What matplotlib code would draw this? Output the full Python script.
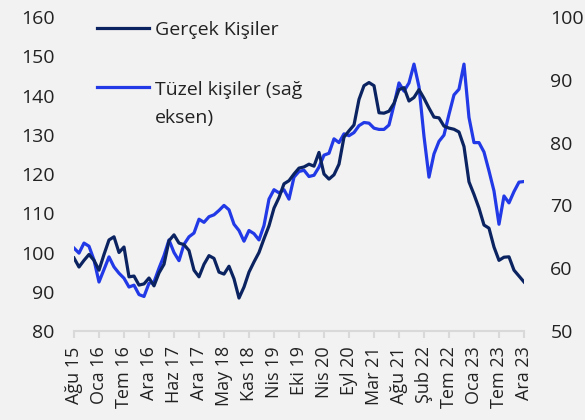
import matplotlib
matplotlib.use("Agg")
import matplotlib.pyplot as plt
from matplotlib.legend_handler import HandlerLine2D
import numpy as np

plt.rcParams['font.family'] = ['Open Sans', 'DejaVu Sans']

# tick labels (equally spaced on the date axis)
tick_labels = ["Ağu 15", "Oca 16", "Tem 16", "Ara 16", "Haz 17", "Ara 17", "May 18",
               "Kas 18", "Nis 19", "Eki 19", "Nis 20", "Eyl 20", "Mar 21", "Ağu 21",
               "Şub 22", "Tem 22", "Oca 23", "Tem 23", "Ara 23"]

# Gerçek Kişiler (left axis)
gercek = [98.6, 96.3, 98.0, 99.5, 98.0, 95.5, 99.5, 103.2, 104.0, 100.0,
          101.4, 93.8, 94.0, 91.7, 92.0, 93.5, 91.5, 94.8, 97.0, 103.0,
          104.5, 102.4, 102.0, 100.5, 95.5, 93.8, 97.0, 99.2, 98.5, 95.0,
          94.5, 96.5, 93.3, 88.4, 91.2, 95.0, 97.6, 100.0, 103.5, 106.8,
          111.3, 114.0, 117.5, 118.3, 120.0, 121.5, 121.8, 122.5, 122.0, 125.5,
          120.0, 118.7, 119.8, 122.5, 129.4, 131.0, 132.5, 139.0, 142.5, 143.3,
          142.5, 135.6, 135.5, 136.0, 138.0, 141.5, 142.0, 138.6, 139.5, 141.5,
          139.3, 136.8, 134.5, 134.3, 132.2, 131.7, 131.4, 130.7, 127.0, 118.0,
          114.8, 111.3, 107.0, 106.2, 101.4, 98.0, 98.8, 98.9, 95.5, 94.0,
          92.5]

# Tüzel kişiler (right axis)
tuzel = [63.2, 62.4, 64.0, 63.5, 61.3, 57.8, 59.8, 61.8, 60.2, 59.2,
         58.4, 57.0, 57.3, 55.8, 55.5, 57.6, 57.8, 60.0, 62.0, 64.5,
         62.5, 61.2, 63.8, 65.0, 65.6, 67.8, 67.3, 68.2, 68.5, 69.2,
         70.0, 69.3, 67.0, 66.0, 64.3, 66.0, 65.5, 64.5, 66.8, 71.0,
         72.5, 72.0, 72.5, 71.0, 74.5, 75.4, 75.6, 74.6, 74.8, 76.1,
         78.0, 78.3, 80.6, 80.0, 81.4, 81.1, 81.6, 82.7, 83.2, 83.1,
         82.3, 82.1, 82.1, 82.8, 86.0, 89.5, 88.2, 89.5, 92.5, 88.9,
         81.0, 74.5, 78.2, 80.2, 81.2, 84.5, 87.6, 88.5, 92.5, 84.0,
         80.0, 80.0, 78.5, 75.5, 72.3, 67.0, 71.5, 70.4, 72.2, 73.7,
         73.8]

bg = "#f2f2f2"
navy = "#0b2461"
blue = "#2139e6"
grey = "#d9d9d9"
txt = "#222222"


class FirstLineHandler(HandlerLine2D):
    # put the legend line next to the first line of a two-line label
    def __init__(self, shift, **kw):
        super().__init__(**kw)
        self.shift = shift

    def create_artists(self, legend, orig_handle, xdescent, ydescent,
                       width, height, fontsize, trans):
        arts = super().create_artists(legend, orig_handle, xdescent, ydescent,
                                      width, height, fontsize, trans)
        for a in arts:
            a.set_ydata(np.asarray(a.get_ydata()) + self.shift * fontsize)
        return arts


x = np.arange(len(gercek))
per_tick = (len(gercek) - 1) / (len(tick_labels) - 1)

fig = plt.figure(figsize=(5.85, 4.2), dpi=100, facecolor=bg)
ax = fig.add_axes([0.1265, 0.2119, 0.7692, 0.7476])
ax.set_facecolor(bg)
ax2 = ax.twinx()

l1, = ax.plot(x, gercek, color=navy, lw=2.3, label="Gerçek Kişiler", zorder=3)
l2, = ax2.plot(x, tuzel, color=blue, lw=2.3, label="Tüzel kişiler (sağ\neksen)")

ax.set_zorder(ax2.get_zorder() + 1)
ax.patch.set_visible(False)
ax2.patch.set_facecolor(bg)

ax.set_xlim(0, len(gercek) - 1)
ax.set_ylim(80, 160)
ax2.set_ylim(50, 100)
ax.set_yticks(range(80, 161, 10))
ax2.set_yticks(range(50, 101, 10))
ax.set_xticks(np.arange(len(tick_labels)) * per_tick)
ax.set_xticklabels(tick_labels, rotation=90)

for a in (ax, ax2):
    for s in a.spines.values():
        s.set_visible(False)
ax.spines['bottom'].set_visible(True)
ax.spines['bottom'].set_color(grey)
ax.spines['bottom'].set_linewidth(1.5)

ax.tick_params(axis='x', colors=grey, length=5, width=1.5, labelcolor=txt,
               labelsize=13, pad=6)
ax.tick_params(axis='y', length=0, labelsize=14, labelcolor=txt, pad=14)
ax2.tick_params(axis='y', length=0, labelsize=14, labelcolor=txt, pad=19)

leg = ax.legend([l1, l2], [l1.get_label(), l2.get_label()], loc="upper left",
                bbox_to_anchor=(0.012, 1.044), frameon=False, fontsize=14,
                handlelength=2.7, handletextpad=0.3, labelspacing=2.2,
                handler_map={l2: FirstLineHandler(0.9)})
for t in leg.get_texts():
    t.set_linespacing(1.7)
    t.set_color(txt)

fig.savefig("out.png", dpi=100, facecolor=bg)
